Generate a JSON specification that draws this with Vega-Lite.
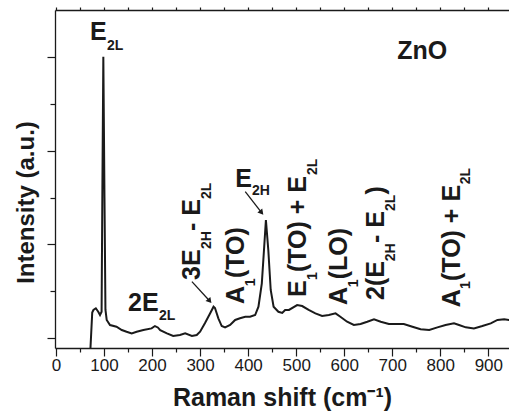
{
  "$schema": "https://vega.github.io/schema/vega-lite/v6.json",
  "width": 454,
  "height": 338,
  "autosize": {"type": "none"},
  "padding": {"left": 55, "top": 10, "right": 0, "bottom": 66},
  "background": "white",
  "config": {
    "view": {"stroke": null},
    "font": "Liberation Sans",
    "axis": {"grid": false, "domainColor": "#1a1a1a", "tickColor": "#1a1a1a", "labelColor": "#1a1a1a", "titleColor": "#1a1a1a", "domainWidth": 1.3, "tickWidth": 1.2}
  },
  "datasets": {
    "spectrum": [
      {"x": 70, "y": -300}, {"x": 75.5, "y": 270}, {"x": 78, "y": 297}, {"x": 83, "y": 315}, {"x": 88, "y": 278},
      {"x": 91.7, "y": 243}, {"x": 95, "y": 278}, {"x": 96.5, "y": 1500}, {"x": 98.6, "y": 3008}, {"x": 101, "y": 1500},
      {"x": 103, "y": 300}, {"x": 105.6, "y": 190}, {"x": 112.5, "y": 136}, {"x": 126, "y": 118}, {"x": 137, "y": 82},
      {"x": 147, "y": 64}, {"x": 157.6, "y": 47}, {"x": 168, "y": 64}, {"x": 182, "y": 82}, {"x": 199, "y": 100},
      {"x": 206, "y": 125}, {"x": 212, "y": 110}, {"x": 217, "y": 82}, {"x": 231, "y": 47}, {"x": 244, "y": 18},
      {"x": 258, "y": 29}, {"x": 269, "y": 47}, {"x": 283, "y": 18}, {"x": 293, "y": 29}, {"x": 300, "y": 64},
      {"x": 310, "y": 154}, {"x": 321, "y": 261}, {"x": 328, "y": 332}, {"x": 331, "y": 318}, {"x": 338, "y": 208},
      {"x": 345, "y": 125}, {"x": 352, "y": 111}, {"x": 362.5, "y": 136}, {"x": 373, "y": 190}, {"x": 383, "y": 208},
      {"x": 394, "y": 225}, {"x": 404, "y": 225}, {"x": 414.6, "y": 243}, {"x": 421.5, "y": 332}, {"x": 428.5, "y": 582},
      {"x": 433, "y": 939}, {"x": 437, "y": 1260}, {"x": 442, "y": 939}, {"x": 447, "y": 511}, {"x": 453, "y": 332},
      {"x": 463, "y": 278}, {"x": 471, "y": 265}, {"x": 477, "y": 297}, {"x": 485, "y": 297}, {"x": 502, "y": 350},
      {"x": 512.5, "y": 339}, {"x": 526, "y": 297}, {"x": 540, "y": 261}, {"x": 554, "y": 232}, {"x": 568, "y": 243},
      {"x": 582, "y": 261}, {"x": 592, "y": 225}, {"x": 606, "y": 171}, {"x": 620, "y": 136}, {"x": 634, "y": 147},
      {"x": 648, "y": 171}, {"x": 662, "y": 197}, {"x": 676, "y": 171}, {"x": 693, "y": 147}, {"x": 707, "y": 147},
      {"x": 724, "y": 147}, {"x": 742, "y": 118}, {"x": 759, "y": 90}, {"x": 777, "y": 82}, {"x": 794, "y": 111},
      {"x": 811, "y": 136}, {"x": 828.5, "y": 154}, {"x": 839, "y": 136}, {"x": 853, "y": 111}, {"x": 870, "y": 100},
      {"x": 887.5, "y": 125}, {"x": 905, "y": 154}, {"x": 919, "y": 190}, {"x": 933, "y": 197}, {"x": 944, "y": 190}
    ],
    "hMain": [
      {"x": 70.8, "y": 3187, "t": "E"},
      {"x": 150, "y": 289, "t": "2E"},
      {"x": 373, "y": 1617, "t": "E"}
    ],
    "hSub": [
      {"x": 106, "y": 3080, "t": "2L"},
      {"x": 214.6, "y": 190, "t": "2L"},
      {"x": 408, "y": 1528, "t": "2H"}
    ],
    "zno": [
      {"x": 762.5, "y": 2984, "t": "ZnO"}
    ],
    "vMain": [
      {"x": 300, "y": 618, "t": "3E"},
      {"x": 300, "y": 1142, "t": "- E"},
      {"x": 392, "y": 361, "t": "A"},
      {"x": 392, "y": 639, "t": "(TO)"},
      {"x": 521, "y": 436, "t": "E"},
      {"x": 521, "y": 703, "t": "(TO) + E"},
      {"x": 606, "y": 351, "t": "A"},
      {"x": 606, "y": 626, "t": "(LO)"},
      {"x": 683, "y": 404, "t": "2(E"},
      {"x": 683, "y": 1014, "t": "- E"},
      {"x": 683, "y": 1532, "t": ")"},
      {"x": 840, "y": 326, "t": "A"},
      {"x": 840, "y": 607, "t": "(TO) + E"}
    ],
    "vSub": [
      {"x": 322, "y": 950, "t": "2H"},
      {"x": 322, "y": 1485, "t": "2L"},
      {"x": 414, "y": 552, "t": "1"},
      {"x": 543, "y": 618, "t": "1"},
      {"x": 543, "y": 1742, "t": "2L"},
      {"x": 628, "y": 541, "t": "1"},
      {"x": 705, "y": 819, "t": "2H"},
      {"x": 705, "y": 1356, "t": "2L"},
      {"x": 862, "y": 521, "t": "1"},
      {"x": 862, "y": 1642, "t": "2L"}
    ],
    "arrows": [
      {"x": 283, "y": 600, "x2": 320, "y2": 393},
      {"x": 394, "y": 1563, "x2": 428, "y2": 1339}
    ]
  },
  "resolve": {"axis": {"x": "independent", "y": "independent"}},
  "layer": [
    {
      "data": {"name": "spectrum"},
      "mark": {"type": "line", "color": "#1a1a1a", "strokeWidth": 2, "clip": true},
      "encoding": {
        "x": {"field": "x", "type": "quantitative", "scale": {"domain": [-2, 943], "nice": false, "zero": false},
          "axis": {"orient": "bottom", "values": [0, 100, 200, 300, 400, 500, 600, 700, 800, 900], "tickSize": 8, "labelFontSize": 17, "labelPadding": 1, "labelFlush": false, "labelOverlap": false,
            "title": "Raman shift (cm⁻¹)", "titleFontSize": 25, "titleFontWeight": "bold", "titleY": 57, "titleBaseline": "alphabetic"}},
        "y": {"field": "y", "type": "quantitative", "scale": {"domain": [-110, 3508], "nice": false, "zero": false},
          "axis": {"orient": "left", "values": [0, 1000, 2000, 3000], "tickSize": 8, "labels": false,
            "title": "Intensity (a.u.)", "titleFontSize": 24, "titleFontWeight": "bold", "titleX": -17, "titleY": 192, "titleBaseline": "bottom"}}
      }
    },
    {
      "data": {"name": "hMain"},
      "mark": {"type": "text", "align": "left", "baseline": "alphabetic", "fontSize": 25, "fontWeight": "bold", "color": "#1a1a1a"},
      "encoding": {
        "x": {"field": "x", "type": "quantitative", "scale": {"domain": [-2, 943], "nice": false, "zero": false},
          "axis": {"orient": "bottom", "values": [50, 150, 250, 350, 450, 550, 650, 750, 850], "tickSize": 4, "labels": false, "domain": false, "title": null}},
        "y": {"field": "y", "type": "quantitative", "scale": {"domain": [-110, 3508], "nice": false, "zero": false},
          "axis": {"orient": "left", "values": [500, 1500, 2500], "tickSize": 5, "labels": false, "domain": false, "title": null}},
        "text": {"field": "t", "type": "nominal"}
      }
    },
    {
      "data": {"name": "hSub"},
      "mark": {"type": "text", "align": "left", "baseline": "alphabetic", "fontSize": 14, "fontWeight": "bold", "color": "#1a1a1a"},
      "encoding": {
        "x": {"field": "x", "type": "quantitative", "scale": {"domain": [-2, 943], "nice": false, "zero": false},
          "axis": {"orient": "top", "values": [0, 50, 100, 150, 200, 250, 300, 350, 400, 450, 500, 550, 600, 650, 700, 750, 800, 850, 900], "tickSize": 3, "labels": false, "domain": true, "title": null}},
        "y": {"field": "y", "type": "quantitative", "scale": {"domain": [-110, 3508], "nice": false, "zero": false}, "axis": null},
        "text": {"field": "t", "type": "nominal"}
      }
    },
    {
      "data": {"name": "zno"},
      "mark": {"type": "text", "align": "center", "baseline": "alphabetic", "fontSize": 25, "fontWeight": "bold", "color": "#1a1a1a"},
      "encoding": {
        "x": {"field": "x", "type": "quantitative", "scale": {"domain": [-2, 943], "nice": false, "zero": false}, "axis": null},
        "y": {"field": "y", "type": "quantitative", "scale": {"domain": [-110, 3508], "nice": false, "zero": false}, "axis": null},
        "text": {"field": "t", "type": "nominal"}
      }
    },
    {
      "data": {"name": "vMain"},
      "mark": {"type": "text", "align": "left", "baseline": "alphabetic", "angle": 270, "fontSize": 25, "fontWeight": "bold", "color": "#1a1a1a"},
      "encoding": {
        "x": {"field": "x", "type": "quantitative", "scale": {"domain": [-2, 943], "nice": false, "zero": false}, "axis": null},
        "y": {"field": "y", "type": "quantitative", "scale": {"domain": [-110, 3508], "nice": false, "zero": false}, "axis": null},
        "text": {"field": "t", "type": "nominal"}
      }
    },
    {
      "data": {"name": "vSub"},
      "mark": {"type": "text", "align": "left", "baseline": "alphabetic", "angle": 270, "fontSize": 14, "fontWeight": "bold", "color": "#1a1a1a"},
      "encoding": {
        "x": {"field": "x", "type": "quantitative", "scale": {"domain": [-2, 943], "nice": false, "zero": false}, "axis": null},
        "y": {"field": "y", "type": "quantitative", "scale": {"domain": [-110, 3508], "nice": false, "zero": false}, "axis": null},
        "text": {"field": "t", "type": "nominal"}
      }
    },
    {
      "data": {"name": "arrows"},
      "mark": {"type": "rule", "color": "#1a1a1a", "strokeWidth": 1.3},
      "encoding": {
        "x": {"field": "x", "type": "quantitative", "scale": {"domain": [-2, 943], "nice": false, "zero": false}, "axis": null},
        "y": {"field": "y", "type": "quantitative", "scale": {"domain": [-110, 3508], "nice": false, "zero": false}, "axis": null},
        "x2": {"field": "x2"},
        "y2": {"field": "y2"}
      }
    },
    {
      "data": {"name": "arrows"},
      "mark": {"type": "point", "shape": "triangle-down", "angle": 320, "filled": true, "size": 40, "color": "#1a1a1a", "opacity": 1},
      "encoding": {
        "x": {"field": "x2", "type": "quantitative", "scale": {"domain": [-2, 943], "nice": false, "zero": false}, "axis": null},
        "y": {"field": "y2", "type": "quantitative", "scale": {"domain": [-110, 3508], "nice": false, "zero": false}, "axis": null}
      }
    }
  ]
}
